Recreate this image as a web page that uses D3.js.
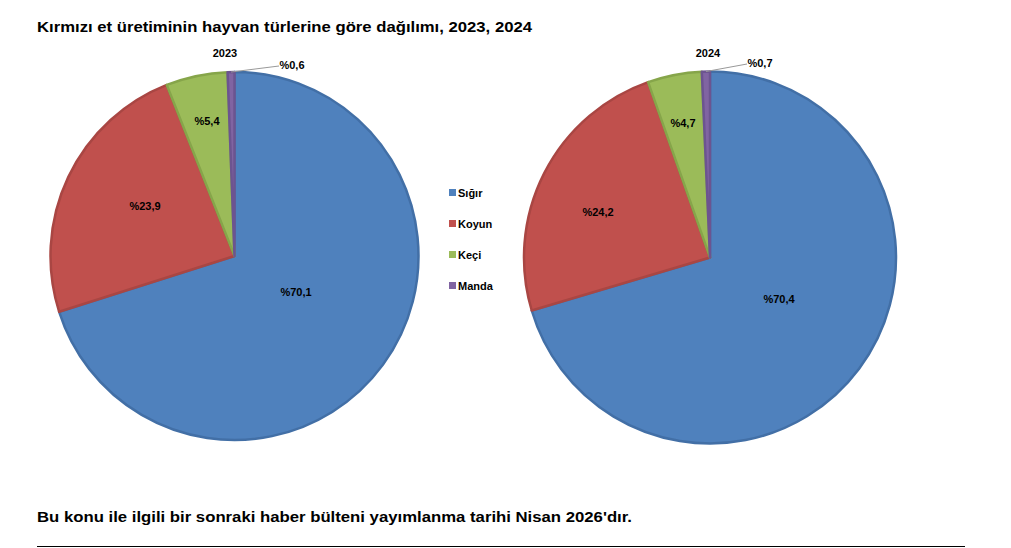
<!DOCTYPE html>
<html><head><meta charset="utf-8">
<script src="https://cdn.jsdelivr.net/npm/d3@7"></script>
<style>body{margin:0;background:#fff;font-family:"Liberation Sans",Arial,sans-serif;}</style>
</head><body>
<svg id="c" width="1011" height="548"></svg>
<script>
const categories = ["Sığır","Koyun","Keçi","Manda"];
const years = ["2023","2024"];
const values2023 = [70.1, 23.9, 5.4, 0.6];
const values2024 = [70.4, 24.2, 4.7, 0.7];
const labels2023 = ["%70,1","%23,9","%5,4","%0,6"];
const labels2024 = ["%70,4","%24,2","%4,7","%0,7"];
const colors = ["#4F81BD","#C0504D","#9BBB59","#8064A2"];
const strokes = ["#426FA6","#A94643","#86A54A","#6C5490"];

const svg = d3.select("#c");
svg.append("text").attr("x",37).attr("y",32).attr("font-size",15).attr("font-weight","bold")
  .attr("textLength",495).attr("lengthAdjust","spacingAndGlyphs")
  .text("Kırmızı et üretiminin hayvan türlerine göre dağılımı, 2023, 2024");
svg.append("text").attr("x",37).attr("y",522).attr("font-size",15).attr("font-weight","bold")
  .attr("textLength",595).attr("lengthAdjust","spacingAndGlyphs")
  .text("Bu konu ile ilgili bir sonraki haber bülteni yayımlanma tarihi Nisan 2026'dır.");
svg.append("line").attr("x1",37).attr("x2",965).attr("y1",546.5).attr("y2",546.5).attr("stroke","#000").attr("stroke-width",1);

const pies = [
  {year:years[0], vals:values2023, labels:labels2023, cx:234.5, cy:256, r:184,
   lab:[[296,296],[145,210],[207,125]], small:[292,69], yearPos:[225,57]},
  {year:years[1], vals:values2024, labels:labels2024, cx:710, cy:257.5, r:186,
   lab:[[779,303],[598,216],[683,127]], small:[760,67], yearPos:[708,57]}
];
const pie = d3.pie().sort(null).value(d=>d);
pies.forEach(p=>{
  const g = svg.append("g").attr("transform",`translate(${p.cx},${p.cy})`);
  const arc = d3.arc().innerRadius(0).outerRadius(p.r);
  const arcs = pie(p.vals);
  g.selectAll("path").data(arcs).join("path")
    .attr("d",arc).attr("fill",(d,i)=>colors[i]).attr("stroke",(d,i)=>strokes[i]).attr("stroke-width",2.5)
    .attr("stroke-linejoin","round");
  arcs.forEach((a,i)=>{
    if(i<3){
      svg.append("text").attr("x",p.lab[i][0]).attr("y",p.lab[i][1]).attr("text-anchor","middle")
        .attr("font-size",11).attr("font-weight","bold").attr("fill","#000").text(p.labels[i]);
    } else {
      const mid=(a.startAngle+a.endAngle)/2;
      const ex=p.cx+Math.sin(mid)*p.r, ey=p.cy-Math.cos(mid)*p.r;
      svg.append("line").attr("x1",ex).attr("y1",ey).attr("x2",p.small[0]-13).attr("y2",p.small[1]-3)
        .attr("stroke","#999").attr("stroke-width",1);
      svg.append("text").attr("x",p.small[0]).attr("y",p.small[1]).attr("text-anchor","middle")
        .attr("font-size",11).attr("font-weight","bold").attr("fill","#000").text(p.labels[i]);
    }
  });
  svg.append("text").attr("x",p.yearPos[0]).attr("y",p.yearPos[1]).attr("text-anchor","middle")
    .attr("font-size",11).attr("font-weight","bold").text(p.year);
});
const lg = svg.append("g");
categories.forEach((c,i)=>{
  const y = 193 + i*31;
  lg.append("rect").attr("x",449).attr("y",y-4).attr("width",7).attr("height",7).attr("fill",colors[i]);
  lg.append("text").attr("x",458).attr("y",y+4).attr("font-size",11).attr("font-weight","bold").text(c);
});
</script>
</body></html>
